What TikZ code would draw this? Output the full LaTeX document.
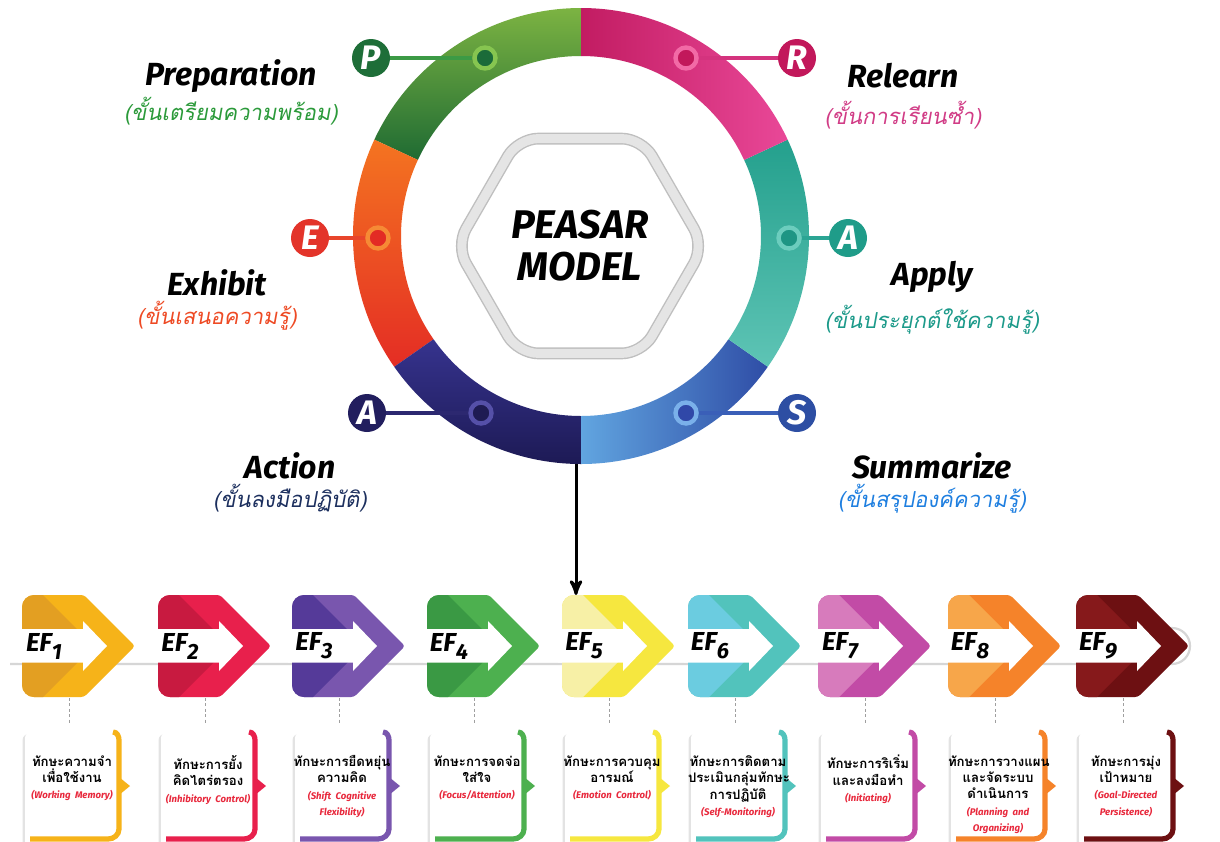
\documentclass[tikz,border=0pt]{standalone}
\usepackage{fontspec}
\setmainfont{Fira Sans}
\newfontfamily\thai[Script=Thai,AutoFakeSlant=0.18]{Loma}
\usetikzlibrary{arrows,positioning,shapes.geometric,shadows}

\definecolor{ringGa}{HTML}{7CB342}\definecolor{ringGb}{HTML}{1F6B33}
\definecolor{ringOa}{HTML}{F47421}\definecolor{ringOb}{HTML}{E42D24}
\definecolor{ringVa}{HTML}{36338E}\definecolor{ringVb}{HTML}{1D1A55}
\definecolor{ringBa}{HTML}{61A5E0}\definecolor{ringBb}{HTML}{2F4DA6}
\definecolor{ringTa}{HTML}{24A08D}\definecolor{ringTb}{HTML}{5EC4B5}
\definecolor{ringPa}{HTML}{C21C62}\definecolor{ringPb}{HTML}{E94898}

\definecolor{letP}{HTML}{1E6E38}\definecolor{letR}{HTML}{C2185B}
\definecolor{letE}{HTML}{E3342A}\definecolor{letAp}{HTML}{1F9C89}
\definecolor{letAc}{HTML}{221E5E}\definecolor{letS}{HTML}{2D4EA3}
\definecolor{rimP}{HTML}{86C550}\definecolor{rimR}{HTML}{F26AA6}
\definecolor{rimE}{HTML}{F68A35}\definecolor{rimAp}{HTML}{6CCDBE}
\definecolor{rimAc}{HTML}{5550A8}\definecolor{rimS}{HTML}{7AB0EA}
\definecolor{corP}{HTML}{1B6B39}\definecolor{corR}{HTML}{C2185B}
\definecolor{corE}{HTML}{E32B24}\definecolor{corAp}{HTML}{1E9584}
\definecolor{corAc}{HTML}{1E1B52}\definecolor{corS}{HTML}{3048A8}
\definecolor{spP}{HTML}{3C9A45}\definecolor{spR}{HTML}{D4337E}
\definecolor{spE}{HTML}{E8452B}\definecolor{spAp}{HTML}{2BA594}
\definecolor{spAc}{HTML}{2C2870}\definecolor{spS}{HTML}{3A5FB8}

\definecolor{thG}{HTML}{2B9A3A}\definecolor{thP}{HTML}{D13C86}
\definecolor{thO}{HTML}{EE4A24}\definecolor{thT}{HTML}{1C9A8A}
\definecolor{thN}{HTML}{1C2F5E}\definecolor{thB}{HTML}{1F7FE0}

\definecolor{efA}{HTML}{F6B319}\definecolor{efAs}{HTML}{E39F22}
\definecolor{efB}{HTML}{E8204C}\definecolor{efBs}{HTML}{C81A40}
\definecolor{efC}{HTML}{7956AE}\definecolor{efCs}{HTML}{553A99}
\definecolor{efD}{HTML}{4DB04F}\definecolor{efDs}{HTML}{3A9944}
\definecolor{efE}{HTML}{F6E73F}\definecolor{efEs}{HTML}{F7F0A6}
\definecolor{efF}{HTML}{52C3BC}\definecolor{efFs}{HTML}{6BCCE0}
\definecolor{efG}{HTML}{C24BA6}\definecolor{efGs}{HTML}{D77BBC}
\definecolor{efH}{HTML}{F5832A}\definecolor{efHs}{HTML}{F7A64A}
\definecolor{efI}{HTML}{6D1012}\definecolor{efIs}{HTML}{86191B}
\definecolor{engred}{HTML}{E8283C}
\definecolor{bargrey}{HTML}{D6D6D6}

\newcommand\efeng[1]{{\rmfamily\bfseries\itshape\color{engred}\fontsize{4.8}{8.2}\selectfont #1}}

\begin{document}
\begin{tikzpicture}[x=0.5pt,y=0.5pt,>=stealth',
    letter/.style={circle,fill=#1,minimum size=19pt,inner sep=0pt,text=white,
      font=\bfseries\itshape\fontsize{17}{17}\selectfont},
    ringdot/.style 2 args={circle,draw=#1,fill=#2,line width=2.2pt,minimum size=10.5pt,inner sep=0pt},
    spoke/.style={draw=#1,line width=1.6pt},
    stage/.style={font=\bfseries\itshape\fontsize{16}{16}\selectfont,inner sep=0pt},
    stagethai/.style={text=#1,font=\thai\itshape\fontsize{11}{11}\selectfont,inner sep=0pt},
    eflabel/.style={inner sep=0pt,font=\bfseries\itshape\fontsize{13}{13}\selectfont},
    efdash/.style={draw=gray!75,line width=0.5pt,dash pattern=on 1.5pt off 1.2pt},
    cardtext/.style={anchor=north,align=center,inner sep=0pt,text width=50pt,
      font=\thai\bfseries\itshape\fontsize{6.6}{8.2}\selectfont},
    pics/efstep/.style n args={4}{code={
      \fill[#1] [rounded corners=6pt] (0,-51) -- (0,0) [rounded corners=1.5pt] -- (62,0) -- (113,-51)
        -- (62,-102) [rounded corners=6pt] -- (0,-102) -- cycle;
      \begin{scope}
        \clip[rounded corners=6pt] (0,-51) -- (0,0) [rounded corners=1.5pt] -- (62,0) -- (113,-51)
          -- (62,-102) [rounded corners=6pt] -- (0,-102) -- cycle;
        \fill[#2] (-1,1) -- (20,1) -- (60,-39) -- (60,-63) -- (20,-103) -- (-1,-103) -- cycle;
      \end{scope}
      \fill[white] (-4,-34) -- (61,-34) -- (61,-26) -- (85,-51) -- (61,-76) -- (61,-67.5) -- (-4,-67.5) -- cycle;
      \node[eflabel] (-name) at (22,-51) {EF\raisebox{-4pt}{\fontsize{11}{11}\selectfont #3}};
      \coordinate (-in) at (14,0);
      \coordinate (-foot) at (47,-103);
      \coordinate (-head) at (47,-130);
      \draw[efdash] (-foot) -- (-head);
      \fill[white,rounded corners=3pt,drop shadow={shadow xshift=-1.2pt,shadow yshift=-1pt,opacity=.22}]
        (3,-137) rectangle (97,-256);
      \draw[#1,line width=2.6pt] (91,-137) to[out=0,in=90] (97,-145) -- (97,-234)
        to[out=-90,in=0] (86,-244) -- (8,-244);
      \fill[#1] (97,-182) -- (108,-191) -- (97,-200) -- cycle;
      \node[cardtext] (-text) at (50,-160) {#4};
    }}]
  \fill[white] (0,0) rectangle (1220,-841);
  \useasboundingbox (0,0) rectangle (1220,-841);

  % ring of the six steps
  \begin{scope}[shift={(581,-236)}]
    \shade[top color=ringGa,bottom color=ringGb] (90:228) arc[start angle=90,end angle=155,radius=228]
      -- (155:180) arc[start angle=155,end angle=90,radius=180] -- cycle;
    \shade[top color=ringOa,bottom color=ringOb] (155:228) arc[start angle=155,end angle=215,radius=228]
      -- (215:180) arc[start angle=215,end angle=155,radius=180] -- cycle;
    \shade[top color=ringVa,bottom color=ringVb] (215:228) arc[start angle=215,end angle=270,radius=228]
      -- (270:180) arc[start angle=270,end angle=215,radius=180] -- cycle;
    \shade[left color=ringBa,right color=ringBb] (270:228) arc[start angle=270,end angle=325,radius=228]
      -- (325:180) arc[start angle=325,end angle=270,radius=180] -- cycle;
    \shade[top color=ringTa,bottom color=ringTb] (-35:228) arc[start angle=-35,end angle=25,radius=228]
      -- (25:180) arc[start angle=25,end angle=-35,radius=180] -- cycle;
    \shade[left color=ringPa,right color=ringPb] (25:228) arc[start angle=25,end angle=90,radius=228]
      -- (90:180) arc[start angle=90,end angle=25,radius=180] -- cycle;
  \end{scope}

  \node[regular polygon,regular polygon sides=6,minimum size=124pt,fill=white,
        draw=gray!50,double=gray!20,double distance=4.5pt,line width=0.7pt,rounded corners=10pt,
        align=center,font=\bfseries\itshape\fontsize{20}{21}\selectfont] (hex) at (580,-246) {PEASAR\\MODEL};

  \node[letter=letP]  (P)    at (371,-58)  {P};
  \node[letter=letR]  (R)    at (797,-58)  {R};
  \node[letter=letE]  (E)    at (310,-238) {E};
  \node[letter=letAp] (Aap)  at (848,-238) {A};
  \node[letter=letAc] (Aac)  at (367,-413) {A};
  \node[letter=letS]  (S)    at (797,-413) {S};

  \node[ringdot={rimP}{corP}]   (dP)   at (485,-58)  {};
  \node[ringdot={rimR}{corR}]   (dR)   at (686,-58)  {};
  \node[ringdot={rimE}{corE}]   (dE)   at (378,-238) {};
  \node[ringdot={rimAp}{corAp}] (dAap) at (789,-238) {};
  \node[ringdot={rimAc}{corAc}] (dAac) at (481,-413) {};
  \node[ringdot={rimS}{corS}]   (dS)   at (686,-413) {};

  \draw[spoke=spP]  (P) -- (dP);
  \draw[spoke=spR]  (R) -- (dR);
  \draw[spoke=spE]  (E) -- (dE);
  \draw[spoke=spAp] (Aap) -- (dAap);
  \draw[spoke=spAc] (Aac) -- (dAac);
  \draw[spoke=spS]  (S) -- (dS);

  % step names
  \node[stage] (prep) at (231,-76)  {Preparation};
  \node[stage] (rel)  at (903,-76)  {Relearn};
  \node[stage] (exh)  at (217,-283) {Exhibit};
  \node[stage] (app)  at (932,-277) {Apply};
  \node[stage] (act)  at (290,-466) {Action};
  \node[stage] (sum)  at (932,-466) {Summarize};
  \node[stagethai=thG, below=2pt of prep] (prepth) {(ขั้นเตรียมความพร้อม)};
  \node[stagethai=thP, below=6pt of rel]  (relth)  {(ขั้นการเรียนซ้ำ)};
  \node[stagethai=thO, below=2pt of exh]  (exhth)  {(ขั้นเสนอความรู้)};
  \node[stagethai=thT, below=6pt of app]  (appth)  {(ขั้นประยุกต์ใช้ความรู้)};
  \node[stagethai=thN, below=2pt of act]  (actth)  {(ขั้นลงมือปฏิบัติ)};
  \node[stagethai=thB, below=2pt of sum]  (sumth)  {(ขั้นสรุปองค์ความรู้)};

  % strip of the nine skills
  \draw[bargrey,line width=1.1pt] (10,-664) -- (1172,-664) arc[start angle=-90,end angle=90,radius=18] -- (1120,-628);

  \pic (ef1) at (22,-595)   {efstep={efA}{efAs}{1}{ทักษะความจำ\\เพื่อใช้งาน\\\efeng{(Working Memory)}}};
  \pic (ef2) at (158,-595)  {efstep={efB}{efBs}{2}{ทักษะการยั้ง\\คิดไตร่ตรอง\\\efeng{(Inhibitory Control)}}};
  \pic (ef3) at (292,-595)  {efstep={efC}{efCs}{3}{ทักษะการยืดหยุ่น\\ความคิด\\\efeng{(Shift Cognitive}\\\efeng{Flexibility)}}};
  \pic (ef4) at (427,-595)  {efstep={efD}{efDs}{4}{ทักษะการจดจ่อ\\ใส่ใจ\\\efeng{(Focus/Attention)}}};
  \pic (ef5) at (562,-595)  {efstep={efE}{efEs}{5}{ทักษะการควบคุม\\อารมณ์\\\efeng{(Emotion Control)}}};
  \pic (ef6) at (688,-595)  {efstep={efF}{efFs}{6}{ทักษะการติดตาม\\ประเมินกลุ่มทักษะ\\การปฏิบัติ\\\efeng{(Self-Monitoring)}}};
  \pic (ef7) at (818,-595)  {efstep={efG}{efGs}{7}{ทักษะการริเริ่ม\\และลงมือทำ\\\efeng{(Initiating)}}};
  \pic (ef8) at (948,-595)  {efstep={efH}{efHs}{8}{ทักษะการวางแผน\\และจัดระบบ\\ดำเนินการ\\\efeng{(Planning and}\\\efeng{Organizing)}}};
  \pic (ef9) at (1076,-595) {efstep={efI}{efIs}{9}{ทักษะการมุ่ง\\เป้าหมาย\\\efeng{(Goal-Directed}\\\efeng{Persistence)}}};

  \coordinate (ringfoot) at (576,-464);
  \draw[->,line width=1.5pt] (ringfoot) -- (ef5-in);
\end{tikzpicture}
\end{document}
